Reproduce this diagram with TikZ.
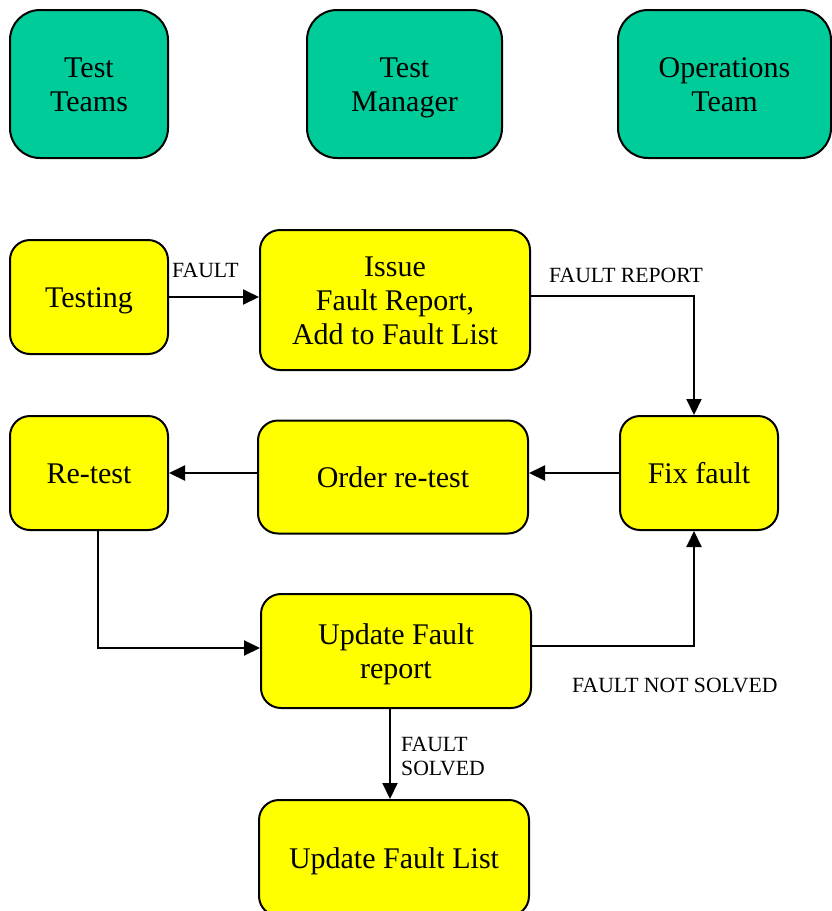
\documentclass[tikz,border=0pt]{standalone}
\usepackage{fontspec}
\setmainfont{Liberation Serif}
\usetikzlibrary{arrows.meta}
\definecolor{boxgreen}{HTML}{00CC99}
\definecolor{boxyellow}{HTML}{FFFF00}
\begin{document}
\begin{tikzpicture}[x=1pt,y=-1pt,
  base box/.style={draw=black, line width=2pt, align=center, inner sep=0pt,
    font=\fontsize{30}{34}\selectfont, text depth=8pt},
  one/.style={text height=28pt},
  two/.style={text height=62pt},
  three/.style={text height=96pt},
  rolebox/.style={base box, two, fill=boxgreen, rounded corners=30pt, minimum height=148pt},
  stepbox/.style={base box, fill=boxyellow, rounded corners=20pt},
  flow/.style={line width=2pt, -{Triangle[length=16pt,width=15pt]}},
  lbl/.style={font=\fontsize{21.7}{24}\selectfont, inner sep=0pt, align=left}]
\useasboundingbox (0,0) rectangle (832,911);
% role boxes
\node[rolebox, minimum width=158pt] (tt) at (89,84) {Test\\Teams};
\node[rolebox, minimum width=195pt] (tm) at (404.5,84) {Test\\Manager};
\node[rolebox, minimum width=213pt] (ot) at (724.5,84) {Operations\\Team};
% process boxes
\node[stepbox, one, minimum width=158pt, minimum height=114pt] (testing) at (89,297) {Testing};
\node[stepbox, three, minimum width=270pt, minimum height=140pt] (issue) at (395,300) {Issue\\Fault Report,\\Add to Fault List};
\node[stepbox, one, minimum width=158pt, minimum height=114pt] (retest) at (89,473) {Re-test};
\node[stepbox, one, minimum width=270pt, minimum height=113pt] (order) at (393,477) {Order re-test};
\node[stepbox, one, minimum width=158pt, minimum height=114pt] (fix) at (699,473) {Fix fault};
\node[stepbox, two, minimum width=270pt, minimum height=114pt] (ufr) at (396,651) {Update Fault\\report};
\node[stepbox, one, minimum width=270pt, minimum height=116pt] (ufl) at (394,858) {Update Fault List};
% helper coordinates
\coordinate (cx) at (694,0);
\coordinate (rx) at (98,0);
\coordinate (ux) at (390,0);
% connectors
\draw[flow] (testing.east) -- (testing.east -| issue.west);
\draw[flow] ([yshift=4pt]issue.east) -| (cx |- fix.north);
\draw[flow] (fix.west) -- (fix.west -| order.east);
\draw[flow] (retest.east -| order.west) -- (retest.east);
\draw[flow] (rx |- retest.south) |- ([yshift=3pt]ufr.west);
\draw[flow] ([yshift=5pt]ufr.east) -| (cx |- fix.south);
\draw[flow] (ux |- ufr.south) -- (ux |- ufl.north);
% labels
\node[lbl, anchor=base west] (l1) at (172,277) {FAULT};
\node[lbl, anchor=base west] (l2) at (549,282) {FAULT REPORT};
\node[lbl, anchor=base west] (l3) at (572,692) {FAULT NOT SOLVED};
\node[lbl, anchor=base west] (l4) at (401,775) {FAULT\\SOLVED};
\end{tikzpicture}
\end{document}
